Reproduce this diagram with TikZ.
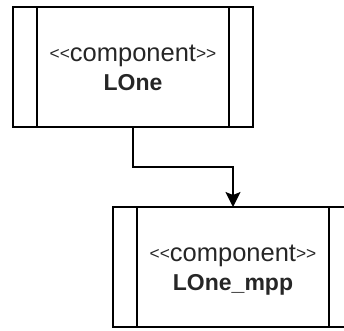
\documentclass[tikz,border=0pt]{standalone}
\usepackage{fontspec}
\setmainfont{Liberation Sans}
\usetikzlibrary{arrows.meta}

% small chevrons round the stereotype (kept apart so they never become guillemets)
\newcommand{\chev}[1]{\raisebox{1.2pt}{\scalebox{0.68}{#1}}}
\newcommand{\stereotype}[1]{\chev{<}\chev{<}#1\chev{>}\chev{>}}

\tikzset{
  component/.style={draw, line width=1.5pt, minimum width=240pt, minimum height=120pt,
    inner sep=0pt, outer sep=0pt,
    path picture={
      \draw[line width=1.5pt] ([xshift=24pt]path picture bounding box.north west)
        -- ([xshift=24pt]path picture bounding box.south west);
      \draw[line width=1.5pt] ([xshift=-24pt]path picture bounding box.north east)
        -- ([xshift=-24pt]path picture bounding box.south east);
    }},
  stereo/.style={anchor=base, inner sep=0pt, text=black!85, font=\fontsize{25.5}{28}\selectfont},
  compname/.style={anchor=base, inner sep=0pt, text=black!85, font=\fontsize{23}{26}\selectfont\bfseries},
}

\begin{document}
\begin{tikzpicture}[x=1pt, y=1pt]
      \clip (0,0) rectangle (344,330);
      \useasboundingbox (0,0) rectangle (344,330);

      \node[component] (lone) at (133, 263) {};
      \node[stereo] (lonestereo) at ([yshift=-54pt]lone.north) {\stereotype{component}};
      \node[compname] (lonename) at ([yshift=-83pt]lone.north) {LOne};

      \node[component] (mpp) at (233, 63) {};
      \node[stereo] (mppstereo) at ([yshift=-54pt]mpp.north) {\stereotype{component}};
      \node[compname] (mppname) at ([yshift=-83pt]mpp.north) {LOne\_mpp};

      \draw[line width=1.5pt, -{Stealth[length=15pt, width=15pt, inset=3pt]}]
        (lone.south) -- ++(0,-40) -| (mpp.north);
\end{tikzpicture}
\end{document}
